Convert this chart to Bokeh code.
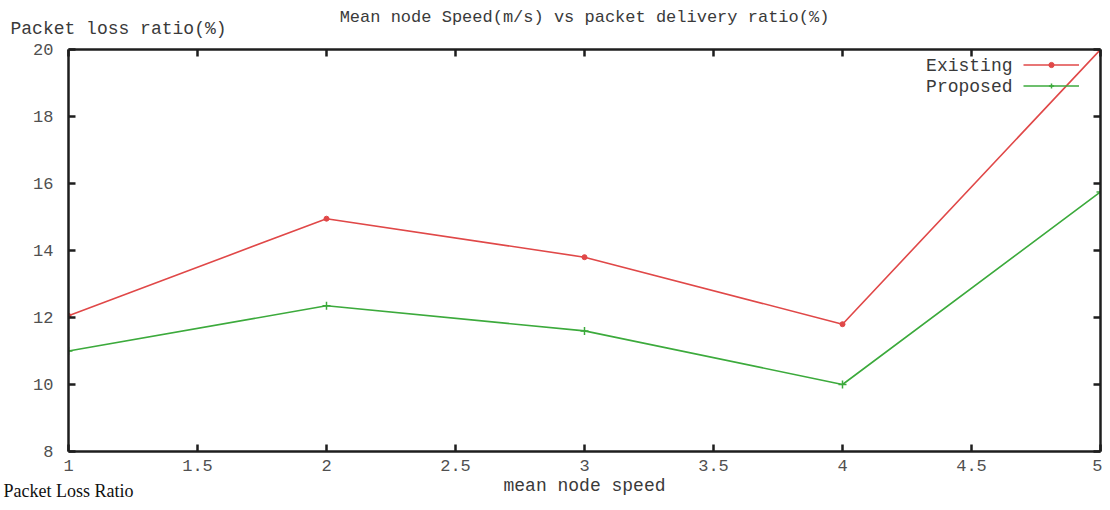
from bokeh.plotting import figure
from bokeh.models import LinearAxis, Label, Legend, LegendItem, Range1d, FixedTicker, Title
from bokeh.embed import file_html
from bokeh.resources import INLINE

speed = [1, 2, 3, 4, 5]
existing = [12.05, 14.95, 13.8, 11.8, 20.0]
proposed = [11.0, 12.35, 11.6, 10.0, 15.75]
x_ticks = [1, 1.5, 2, 2.5, 3, 3.5, 4, 4.5, 5]
y_ticks = [8, 10, 12, 14, 16, 18, 20]

title_text = "Mean node Speed(m/s) vs packet delivery ratio(%)"
ylabel_text = "Packet loss ratio(%)"
xlabel_text = "mean node speed"
caption_text = "Packet Loss Ratio"
series_names = ["Existing", "Proposed"]

MONO = "Liberation Mono"
RED = "#e04848"
GREEN = "#3caa3c"
AX = "#1e1e1e"
TXT = "#3a3a3a"

p = figure(width=1102, height=502, output_backend="svg", toolbar_location=None,
           x_range=Range1d(1, 5), y_range=Range1d(8, 20),
           x_axis_location=None, y_axis_location=None,
           min_border_left=68, min_border_right=2, min_border_top=49, min_border_bottom=51)
p.grid.visible = False
p.outline_line_color = None
p.background_fill_color = "white"
p.border_fill_color = "white"
p.title.text = ""


def style_axis(ax, labels=True, standoff=10):
    ax.axis_line_color = AX
    ax.axis_line_width = 2.5
    ax.major_tick_in = 7
    ax.major_tick_out = 0
    ax.major_tick_line_color = AX
    ax.major_tick_line_width = 2.5
    ax.minor_tick_in = 0
    ax.minor_tick_out = 0
    ax.major_label_text_font = MONO
    ax.major_label_standoff = standoff
    if labels:
        ax.major_label_text_font_size = "17px"
        ax.major_label_text_color = "#505050"
    else:
        ax.major_label_text_font_size = "1px"
        ax.major_label_text_color = None
        ax.major_label_standoff = 0


xb = LinearAxis(ticker=FixedTicker(ticks=x_ticks))
style_axis(xb, True, 8)
xb.major_label_overrides = {1: "1", 2: "2", 3: "3", 4: "4", 5: "5"}
xb.axis_label = xlabel_text
xb.axis_label_text_font = MONO
xb.axis_label_text_font_size = "18px"
xb.axis_label_text_font_style = "normal"
xb.axis_label_text_color = TXT
xb.axis_label_standoff = 2
p.add_layout(xb, "below")
xt = LinearAxis(ticker=FixedTicker(ticks=x_ticks))
style_axis(xt, False)
p.add_layout(xt, "above")
yl = LinearAxis(ticker=FixedTicker(ticks=y_ticks))
style_axis(yl, True, 15)
p.add_layout(yl, "left")
yr = LinearAxis(ticker=FixedTicker(ticks=y_ticks))
style_axis(yr, False)
p.add_layout(yr, "right")

# caption below (overlaps axis row via negative standoff)
p.add_layout(Title(text=caption_text, align="left", offset=-65, standoff=-35,
                   vertical_align="top", text_font="Liberation Serif",
                   text_font_size="18px", text_font_style="normal",
                   text_color="#111111"), "below")
# y label and main title above
p.add_layout(Title(text=ylabel_text, align="left", offset=-58, standoff=17,
                   vertical_align="top", text_font=MONO, text_font_size="18px",
                   text_font_style="normal", text_color=TXT), "above")
p.add_layout(Title(text=title_text, align="center", offset=-19, standoff=-32,
                   vertical_align="bottom", text_font=MONO, text_font_size="17px",
                   text_font_style="normal", text_color=TXT), "above")

l1 = p.line(speed, existing, line_color=RED, line_width=1.6)
m1 = p.scatter(speed, existing, marker="circle", size=5, fill_color=RED, line_color=RED)
l2 = p.line(speed, proposed, line_color=GREEN, line_width=1.6)
m2 = p.scatter(speed, proposed, marker="cross", size=8, line_color=GREEN, line_width=1.5)

legend = Legend(items=[LegendItem(label=" ", renderers=[l1, m1]),
                       LegendItem(label=" ", renderers=[l2, m2])],
                location="top_right", margin=5, padding=9, spacing=1,
                glyph_width=56, glyph_height=13, label_height=20, label_width=16,
                label_standoff=0, border_line_color=None, background_fill_alpha=0,
                label_text_font_size="10px")
p.add_layout(legend)

for name, fy in zip(series_names, [386, 365]):
    p.add_layout(Label(x=944, y=fy, x_units="screen", y_units="screen", text=name,
                       text_font=MONO, text_font_size="18px", text_color=TXT,
                       text_align="right", text_baseline="middle"))

open("out.html", "w").write(file_html(p, INLINE))
